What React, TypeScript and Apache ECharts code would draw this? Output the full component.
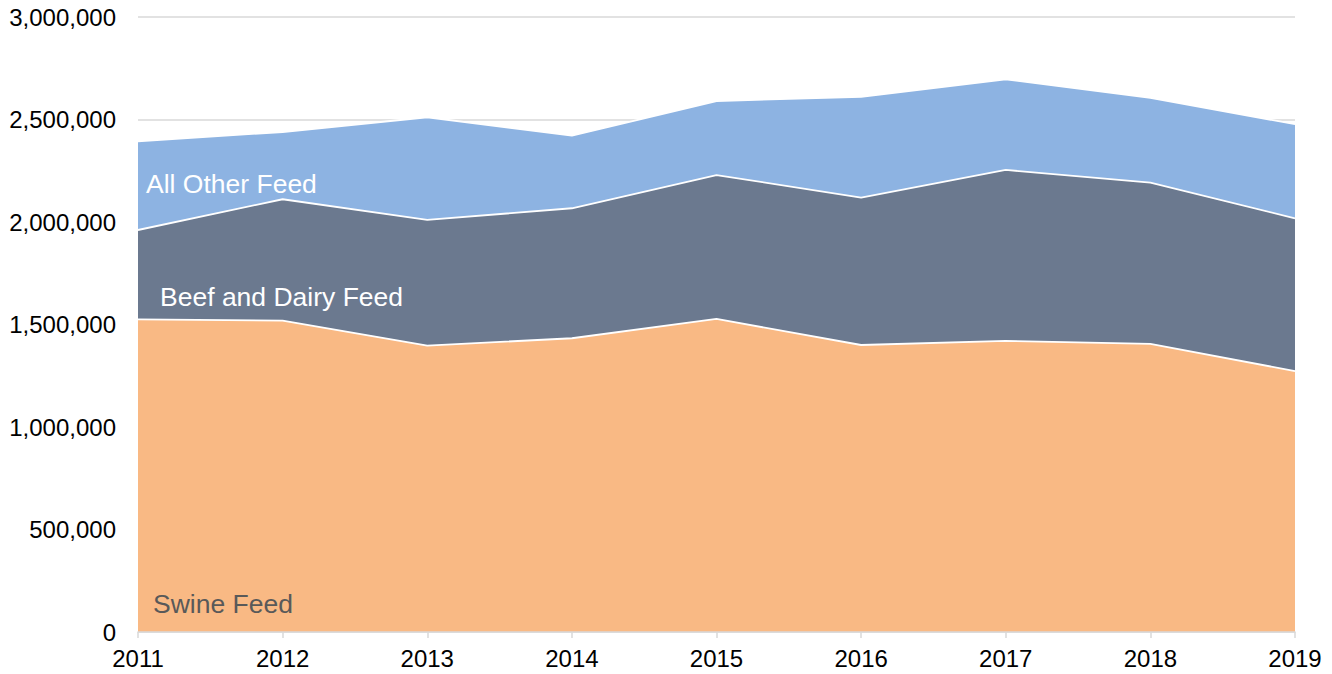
import React, { useEffect, useRef } from "react";
import * as echarts from "echarts";

const years = ["2011", "2012", "2013", "2014", "2015", "2016", "2017", "2018", "2019"];
const swineFeed = [1525000, 1519000, 1397000, 1433000, 1527000, 1400000, 1420000, 1405000, 1273000];
const beefDairyFeed = [436000, 592000, 613000, 634000, 702000, 719000, 834000, 787000, 745000];
const allOtherFeed = [433000, 328000, 501000, 354000, 361000, 492000, 442000, 414000, 459000];

const FONT = "'Liberation Sans', Arial, sans-serif";

export default function App() {
  const ref = useRef<HTMLDivElement>(null);
  useEffect(() => {
    if (!ref.current) return;
    const chart = echarts.init(ref.current, null, { renderer: "svg" });
    const mk = (name: string, data: number[], color: string) => ({
      name,
      type: "line",
      stack: "total",
      data,
      symbol: "none",
      lineStyle: { color: "#ffffff", width: 1.8 },
      areaStyle: { color, opacity: 1 },
      itemStyle: { color },
      emphasis: { disabled: true },
      z: 2,
    });
    chart.setOption({
      animation: false,
      textStyle: { fontFamily: FONT },
      grid: { left: 138, right: 37, top: 17, bottom: 42, containLabel: false },
      xAxis: {
        type: "category",
        data: years,
        boundaryGap: false,
        axisLine: { show: true, lineStyle: { color: "#d9d9d9", width: 1.5 } },
        axisTick: { show: true, length: 6, lineStyle: { color: "#d9d9d9", width: 1.5 } },
        axisLabel: { color: "#000000", fontSize: 24, fontFamily: FONT, margin: 14 },
        splitLine: { show: false },
        z: 3,
      },
      yAxis: {
        type: "value",
        min: 0,
        max: 3000000,
        interval: 500000,
        axisLine: { show: false },
        axisTick: { show: false },
        axisLabel: {
          color: "#000000",
          fontSize: 24,
          fontFamily: FONT,
          margin: 22,
          formatter: (v: number) => v.toLocaleString("en-US"),
        },
        splitLine: { show: true, lineStyle: { color: "#d9d9d9", width: 1.5 } },
      },
      series: [
        mk("Swine Feed", swineFeed, "#F9B984"),
        mk("Beef and Dairy Feed", beefDairyFeed, "#6B798F"),
        mk("All Other Feed", allOtherFeed, "#8DB3E2"),
      ],
      graphic: [
        {
          type: "text",
          left: 146,
          top: 170,
          z: 10,
          style: { text: "All Other Feed", fill: "#ffffff", font: `26.5px ${FONT}` },
        },
        {
          type: "text",
          left: 160,
          top: 283,
          z: 10,
          style: { text: "Beef and Dairy Feed", fill: "#ffffff", font: `26.5px ${FONT}` },
        },
        {
          type: "text",
          left: 153,
          top: 590,
          z: 10,
          style: { text: "Swine Feed", fill: "#595959", font: `26.5px ${FONT}` },
        },
      ],
    });
    return () => chart.dispose();
  }, []);
  return (
    <div
      ref={ref}
      style={{ position: "absolute", left: 0, top: 0, width: 1332, height: 674 }}
    />
  );
}
